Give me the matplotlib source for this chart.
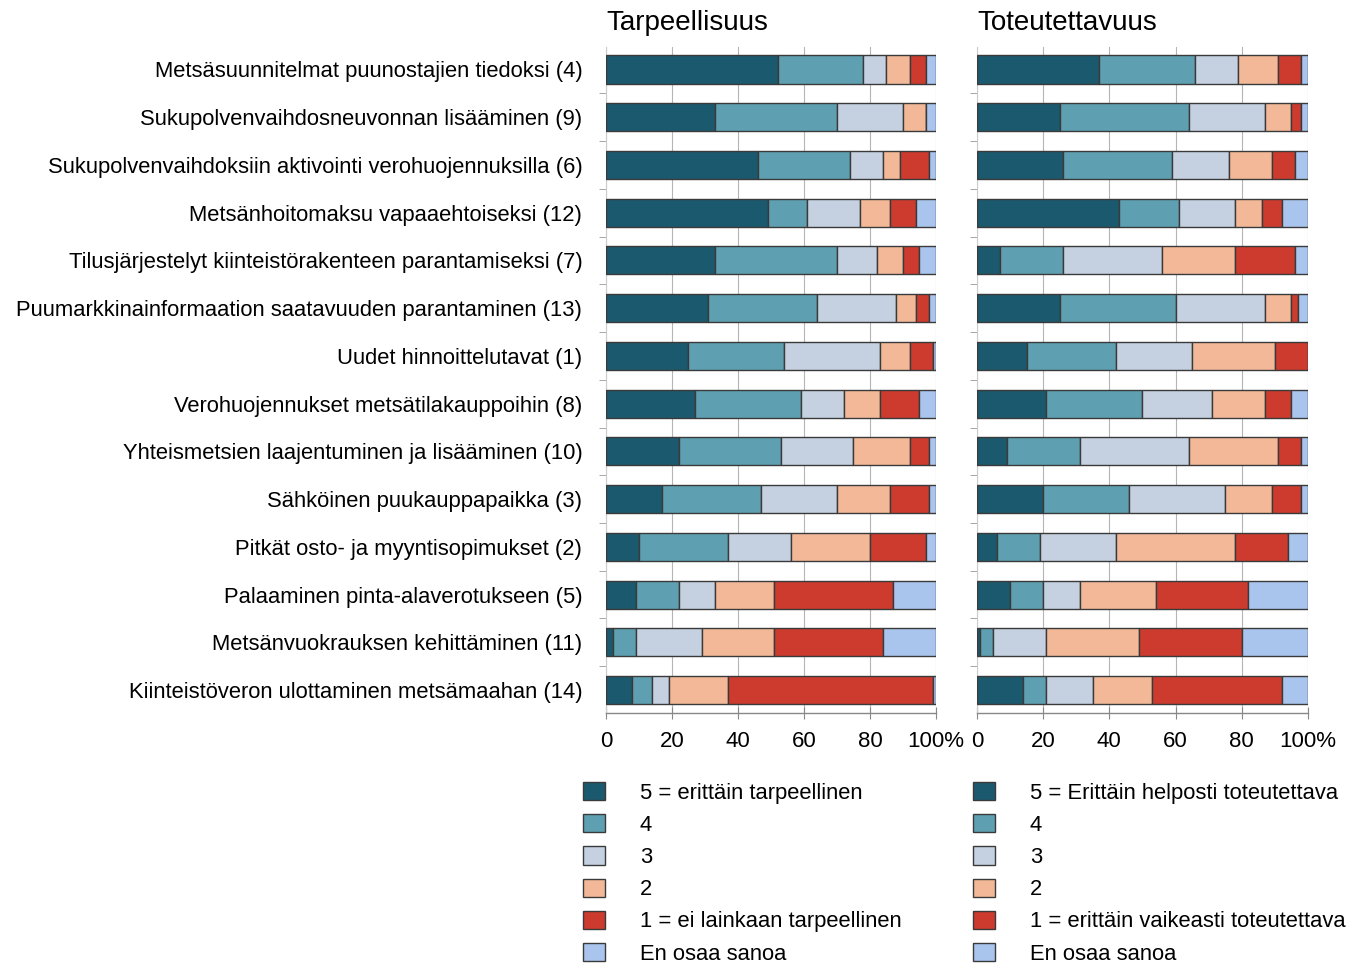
import numpy as np
import matplotlib
matplotlib.use("Agg")
import matplotlib.pyplot as plt
from matplotlib.patches import Patch

plt.rcParams['font.family'] = ['Liberation Sans', 'DejaVu Sans']

categories = [
    "Metsäsuunnitelmat puunostajien tiedoksi (4)",
    "Sukupolvenvaihdosneuvonnan lisääminen (9)",
    "Sukupolvenvaihdoksiin aktivointi verohuojennuksilla (6)",
    "Metsänhoitomaksu vapaaehtoiseksi (12)",
    "Tilusjärjestelyt kiinteistörakenteen parantamiseksi (7)",
    "Puumarkkinainformaation saatavuuden parantaminen (13)",
    "Uudet hinnoittelutavat (1)",
    "Verohuojennukset metsätilakauppoihin (8)",
    "Yhteismetsien laajentuminen ja lisääminen (10)",
    "Sähköinen puukauppapaikka (3)",
    "Pitkät osto- ja myyntisopimukset (2)",
    "Palaaminen pinta-alaverotukseen (5)",
    "Metsänvuokrauksen kehittäminen (11)",
    "Kiinteistöveron ulottaminen metsämaahan (14)",
]

# Tarpeellisuus (%)
tarp_5 = [52, 33, 46, 49, 33, 31, 25, 27, 22, 17, 10, 9, 2, 8]
tarp_4 = [26, 37, 28, 12, 37, 33, 29, 32, 31, 30, 27, 13, 7, 6]
tarp_3 = [7, 20, 10, 16, 12, 24, 29, 13, 22, 23, 19, 11, 20, 5]
tarp_2 = [7, 7, 5, 9, 8, 6, 9, 11, 17, 16, 24, 18, 22, 18]
tarp_1 = [5, 0, 9, 8, 5, 4, 7, 12, 6, 12, 17, 36, 33, 62]
tarp_eos = [3, 3, 2, 6, 5, 2, 1, 5, 2, 2, 3, 13, 16, 1]

# Toteutettavuus (%)
tot_5 = [37, 25, 26, 43, 7, 25, 15, 21, 9, 20, 6, 10, 1, 14]
tot_4 = [29, 39, 33, 18, 19, 35, 27, 29, 22, 26, 13, 10, 4, 7]
tot_3 = [13, 23, 17, 17, 30, 27, 23, 21, 33, 29, 23, 11, 16, 14]
tot_2 = [12, 8, 13, 8, 22, 8, 25, 16, 27, 14, 36, 23, 28, 18]
tot_1 = [7, 3, 7, 6, 18, 2, 10, 8, 7, 9, 16, 28, 31, 39]
tot_eos = [2, 2, 4, 8, 4, 3, 0, 5, 2, 2, 6, 18, 20, 8]

xticks = [0, 20, 40, 60, 80, 100]
xticklabels = ['0', '20', '40', '60', '80', '100%']

tarp_labels = ["5 = erittäin tarpeellinen", "4", "3", "2",
               "1 = ei lainkaan tarpeellinen", "En osaa sanoa"]
tot_labels = ["5 = Erittäin helposti toteutettava", "4", "3", "2",
              "1 = erittäin vaikeasti toteutettava", "En osaa sanoa"]

colors = ['#1b5a6e', '#5e9fb2', '#c5d1e0', '#f2b898', '#cc3b2d', '#a9c5ee']
edge = '#3a3a3a'

fig = plt.figure(figsize=(13.49, 9.63), dpi=100)
ax1 = fig.add_axes([0.4492, 0.2596, 0.2446, 0.6916])
ax2 = fig.add_axes([0.7242, 0.2596, 0.2454, 0.6916])

y = np.arange(len(categories))


def draw(ax, series, title, show_labels):
    left = np.zeros(len(categories))
    for vals, c in zip(series, colors):
        vals = np.array(vals, dtype=float)
        ax.barh(y, vals, left=left, height=0.59, color=c, edgecolor=edge,
                linewidth=1.0, zorder=3)
        left += vals
    ax.set_xlim(0, 100)
    ax.set_ylim(13.48, -0.47)
    ax.set_xticks(xticks)
    ax.set_xticklabels(xticklabels, fontsize=16)
    ax.xaxis.grid(True, color='#b5b5b5', linewidth=0.8, zorder=0)
    ax.set_axisbelow(True)
    ax.set_yticks(y)
    if show_labels:
        ax.set_yticklabels(categories, fontsize=15.8)
    else:
        ax.set_yticklabels([])
    ax.set_yticks(y[:-1] + 0.5, minor=True)
    ax.tick_params(axis='y', which='major', length=0, pad=17)
    ax.tick_params(axis='y', which='minor', length=5, color='#999999', direction='out')
    ax.tick_params(axis='x', length=8, color='#888888', direction='inout', pad=9)
    for s in ['top', 'right']:
        ax.spines[s].set_visible(False)
    ax.spines['left'].set_color('#cccccc')
    ax.spines['left'].set_linewidth(0.8)
    ax.spines['bottom'].set_color('#888888')
    ax.spines['bottom'].set_linewidth(1.0)
    ax.set_title(title, loc='left', fontsize=20, pad=12)


draw(ax1, [tarp_5, tarp_4, tarp_3, tarp_2, tarp_1, tarp_eos], 'Tarpeellisuus', True)
draw(ax2, [tot_5, tot_4, tot_3, tot_2, tot_1, tot_eos], 'Toteutettavuus', False)


def legend(labels, x):
    handles = [Patch(facecolor=c, edgecolor=edge, linewidth=1.0) for c in colors]
    fig.legend(handles, labels, loc='upper left', bbox_to_anchor=(x, 0.188),
               frameon=False, fontsize=15.8, handlelength=1.0, handleheight=0.9,
               handletextpad=1.6, labelspacing=0.48, borderaxespad=0, borderpad=0)


legend(tarp_labels, 0.432)
legend(tot_labels, 0.721)

fig.savefig('out.png', dpi=100)
